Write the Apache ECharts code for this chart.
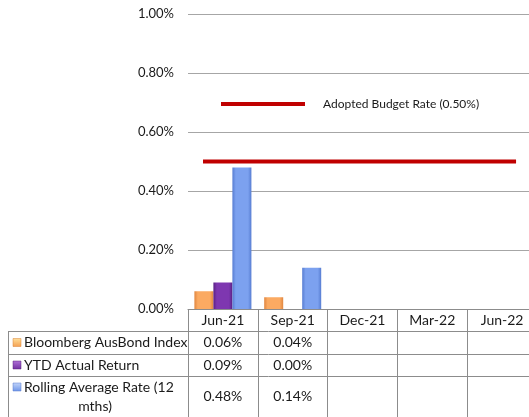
<!DOCTYPE html>
<html>
<head>
<meta charset="utf-8">
<script src="https://cdn.jsdelivr.net/npm/echarts@6/dist/echarts.min.js"></script>
<style>
  html, body { margin: 0; padding: 0; background: #ffffff; }
  #chart { width: 529px; height: 417px; }
</style>
</head>
<body>
<div id="chart"></div>
<script>
// Quarterly investment returns (values in %)
const categories = ['Jun-21', 'Sep-21', 'Dec-21', 'Mar-22', 'Jun-22'];
const seriesNames = ['Bloomberg AusBond Index', 'YTD Actual Return', 'Rolling Average Rate (12 mths)'];
const bloombergIndex = [0.06, 0.04, null, null, null];
const ytdActualReturn = [0.09, 0.00, null, null, null];
const rollingAverageRate = [0.48, 0.14, null, null, null];
const budgetRate = 0.50;
const budgetName = 'Adopted Budget Rate (0.50%)';
const yTickValues = [0, 0.2, 0.4, 0.6, 0.8, 1.0];

const FONT = 'Lato, "Liberation Sans", sans-serif';
const TEXT = '#1a1a1a';
const BORDER = '#8c8c8c';

// bar fills: darker edges, lighter middle
function barFill(edge, mid) {
  return new echarts.graphic.LinearGradient(0, 0, 1, 0, [
    { offset: 0, color: edge },
    { offset: 0.18, color: mid },
    { offset: 0.82, color: mid },
    { offset: 1, color: edge }
  ]);
}
function iconFill(light, dark) {
  return new echarts.graphic.LinearGradient(0, 0, 0, 1, [
    { offset: 0, color: light },
    { offset: 1, color: dark }
  ]);
}
const palette = [
  { edge: '#E08640', mid: '#FBAA62', border: '#D98236', light: '#FFE09A', dark: '#F4A052' },
  { edge: '#5A2184', mid: '#7E37B0', border: '#58217F', light: '#B070D8', dark: '#7030A0' },
  { edge: '#577DD2', mid: '#7CA1EF', border: '#5479CC', light: '#C4D6FA', dark: '#6E95E8' }
];
const seriesValues = [bloombergIndex, ytdActualReturn, rollingAverageRate];

const chart = echarts.init(document.getElementById('chart'), null, { renderer: 'canvas' });

const barSeries = seriesValues.map((vals, i) => ({
  name: seriesNames[i],
  type: 'bar',
  data: vals,
  barWidth: 19,
  barGap: '0%',
  itemStyle: {
    color: barFill(palette[i].edge, palette[i].mid),
    borderWidth: 0
  },
  emphasis: { disabled: true }
}));

const option = {
  animation: false,
  grid: { left: 188, top: 14, width: 349, height: 295, containLabel: false, outerBoundsMode: 'none' },
  legend: {
    show: true,
    data: [{ name: budgetName, icon: 'rect' }],
    left: 221,
    top: 98,
    padding: 0,
    itemWidth: 84,
    itemHeight: 4,
    selectedMode: false,
    textStyle: { fontFamily: FONT, fontSize: 12, color: TEXT, padding: [0, 0, 0, 13] }
  },
  xAxis: [
    {
      type: 'category',
      data: categories,
      axisLine: { show: true, lineStyle: { color: BORDER, width: 1 } },
      axisTick: { show: true, interval: 0, length: 108, lineStyle: { color: BORDER, width: 1 } },
      axisLabel: { interval: 0, margin: 4, fontFamily: FONT, fontSize: 14, color: TEXT },
      splitLine: { show: false }
    },
    {
      // continuous axis across the same band, used for the budget reference line
      type: 'value',
      min: 0,
      max: categories.length,
      show: false,
      position: 'bottom'
    }
  ],
  yAxis: {
    type: 'value',
    min: yTickValues[0],
    max: yTickValues[yTickValues.length - 1],
    interval: yTickValues[1] - yTickValues[0],
    axisLine: { show: false },
    axisTick: { show: false },
    axisLabel: {
      margin: 14,
      fontFamily: FONT,
      fontSize: 13,
      color: TEXT,
      formatter: v => v.toFixed(2) + '%'
    },
    splitLine: { show: true, lineStyle: { color: '#a6a6a6', width: 1 } }
  },
  series: barSeries.concat([{
    name: budgetName,
    type: 'line',
    xAxisIndex: 1,
    data: [[0.215, budgetRate], [4.70, budgetRate]],
    symbol: 'none',
    lineStyle: { color: '#C00000', width: 4, cap: 'butt' },
    itemStyle: { color: '#C00000' },
    emphasis: { disabled: true },
    z: 5
  }])
};
chart.setOption(option);

// ---- data table under the category axis ----
const rowEdges = [331, 354, 376, 417];
const tableLeft = 8;
const tableRight = 529;
const graphics = [];

rowEdges.slice(0, 3).forEach(y => {
  graphics.push({
    type: 'line', silent: true,
    shape: { x1: tableLeft, y1: y + 0.5, x2: tableRight, y2: y + 0.5 },
    style: { stroke: BORDER, lineWidth: 1 }
  });
});
graphics.push({
  type: 'line', silent: true,
  shape: { x1: tableLeft + 0.5, y1: rowEdges[0], x2: tableLeft + 0.5, y2: rowEdges[3] },
  style: { stroke: BORDER, lineWidth: 1 }
});

function wrapName(name, limit) {
  if (name.length <= limit) return [name];
  const cut = name.lastIndexOf(' ', limit);
  return [name.slice(0, cut), name.slice(cut + 1)];
}

seriesNames.forEach((name, r) => {
  const top = rowEdges[r];
  const bottom = rowEdges[r + 1];
  const lines = wrapName(name, 24);
  const lineH = 19;
  const firstY = (top + bottom) / 2 - (lines.length - 1) * lineH / 2;
  graphics.push({
    type: 'rect', silent: true,
    shape: { x: 13, y: firstY - 4, width: 8, height: 8 },
    style: { fill: iconFill(palette[r].light, palette[r].dark), stroke: palette[r].border, lineWidth: 0.5 }
  });
  lines.forEach((ln, k) => {
    graphics.push({
      type: 'text', silent: true,
      style: {
        text: ln,
        x: k === 0 ? 24 : 95,
        y: firstY + k * lineH,
        align: k === 0 ? 'left' : 'center',
        verticalAlign: 'middle',
        fontFamily: FONT, fontSize: 14, fill: TEXT
      }
    });
  });
  seriesValues[r].forEach((v, c) => {
    if (v == null) return;
    const cx = chart.convertToPixel({ xAxisIndex: 0 }, categories[c]);
    graphics.push({
      type: 'text', silent: true,
      style: {
        text: v.toFixed(2) + '%',
        x: cx,
        y: (top + bottom) / 2,
        align: 'center',
        verticalAlign: 'middle',
        fontFamily: FONT, fontSize: 14, fill: TEXT
      }
    });
  });
});

chart.setOption({ graphic: graphics });
</script>
</body>
</html>
